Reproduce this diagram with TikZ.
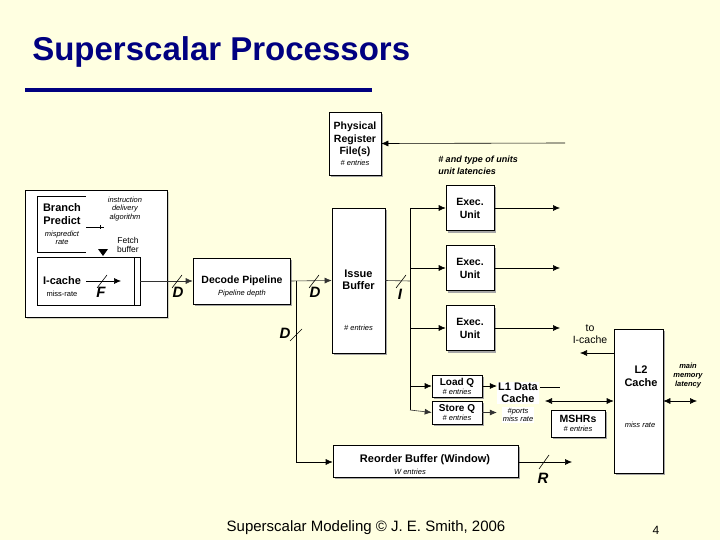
\documentclass[tikz,border=0pt]{standalone}
\usepackage{fontspec}
\setmainfont{Liberation Sans}
\usetikzlibrary{arrows.meta,shadows}
\definecolor{slidebg}{RGB}{255,255,225}
\definecolor{navy}{RGB}{0,0,128}
\begin{document}
\begin{tikzpicture}[
        x=1pt, y=-1pt, semithick,
        box/.style={draw, fill=white, align=center, inner sep=0pt, font=\bfseries\fontsize{11}{12.5}\selectfont,
            drop shadow={shadow xshift=2pt, shadow yshift=-2pt, fill=gray!70, opacity=1}},
        note/.style={font=\bfseries\itshape\fontsize{9}{12}\selectfont, align=center, inner sep=0pt},
        tiny/.style={font=\itshape\fontsize{7.5}{8.5}\selectfont, inner sep=0pt, align=center},
        arrow/.style={-{Latex[length=7pt,width=6pt]}},
        dbl/.style={{Latex[length=7pt,width=6pt]}-{Latex[length=7pt,width=6pt]}},
        wire/.style={},
        lbl/.style={font=\bfseries\itshape\fontsize{15}{16}\selectfont, inner sep=0pt}
    ]
        \fill[slidebg] (0,0) rectangle (720,540);
        \useasboundingbox (0,0) rectangle (720,540);

        % Title
        \node[anchor=west, font=\bfseries\fontsize{33}{36}\selectfont, text=navy, inner sep=0pt] (title) at (32,52) {Superscalar Processors};
        \draw[navy, line width=4pt] (25,90) -- (372,90);

        % Front end
        \node[draw, fill=white, minimum width=142, minimum height=127, drop shadow={shadow xshift=2pt, shadow yshift=-2pt, fill=gray!70}] (front) at (96,253.5) {};
        \node[draw, fill=white, minimum width=63, minimum height=56, inner sep=0pt] (bpred) at (68.5,224) {};
        \fill[white] (86,193) rectangle (160,225);
        \fill[white] (86,229) rectangle (160,256);
        \draw (86,227) -- (104,227);
        \node[align=center, font=\bfseries\fontsize{11}{12.5}\selectfont, inner sep=0pt] (bptext) at (62,214) {Branch\\Predict};
        \node[tiny] (misp) at (62,238) {mispredict\\rate};
        \node[tiny] (algo) at (125,209) {instruction\\delivery\\algorithm};
        \node[font=\fontsize{8.5}{9.5}\selectfont, align=center, inner sep=0pt] (fbuf) at (128,245) {Fetch\\buffer};
        \fill (98,249) -- (108,249) -- (103,256) -- cycle;
        \node[draw, fill=white, minimum width=103, minimum height=48, inner sep=0pt] (icbox) at (88.5,281) {};
        \fill[white] (86,259) rectangle (130,304);
        \draw (134,257) -- (134,305);
        \node[font=\bfseries\fontsize{11}{12}\selectfont, inner sep=0pt] (icache) at (62,281) {I-cache};
        \node[tiny, font=\fontsize{7.5}{8.5}\selectfont] (icmiss) at (62,294) {miss-rate};
        \coordinate (fsrc) at (86,281);
        \coordinate (fdst) at (121,281);
        \draw[arrow] (fsrc) -- (fdst);
        \draw (97,288) -- (107,275);
        \node[lbl] (fl) at (101,292) {F};

        % Decode / issue
        \node[box, minimum width=97, minimum height=46] (decode) at (241.5,281) {};
        \node[font=\bfseries\fontsize{10.5}{12}\selectfont, inner sep=0pt] (dect) at (242,281) {Decode Pipeline};
        \node[tiny] (dpd) at (242,294) {Pipeline depth};
        \coordinate (fout) at (140,281);
        \draw[arrow, gray!40!black] (fout) -- (decode.west);
        \draw (172,288) -- (182,275);
        \node[lbl] (dl1) at (178,292) {D};

        \node[box, minimum width=53, minimum height=145] (issue) at (358.5,280.5) {};
        \node[font=\bfseries\fontsize{11}{12.5}\selectfont, align=center, inner sep=0pt] (isst) at (358.5,280) {Issue\\Buffer};
        \node[tiny] (isse) at (358.5,328) {\# entries};
        \draw[arrow, gray!40!black] (decode.east) -- (issue.west);
        \draw (309,288) -- (319,275);
        \node[lbl] (dl2) at (315,292) {D};

        \node[box, minimum width=52, minimum height=63, font=\bfseries\fontsize{10.5}{12.5}\selectfont] (prf) at (355,143.5) {Physical\\Register\\File(s)\\[-2pt]{\mdseries\itshape\fontsize{7.5}{8}\selectfont \# entries}};
        \coordinate (prfsrc) at (565,143);
        \draw[arrow] (prfsrc) -- (prf.east);
        \node[note, align=left] (units) at (478,165) {\# and type of units\\unit latencies};

        % Execution units
        \coordinate (bus) at (410,281);
        \draw[wire, gray!40!black] (issue.east) -- (bus);
        \draw (396,288) -- (406,275);
        \node[lbl] (il) at (400,294) {I};
        \draw[wire] (410,208) -- (410,410);
        \foreach \y [count=\i] in {208,268,328} {
            \node[box, minimum width=48, minimum height=45, font=\bfseries\fontsize{10.5}{13}\selectfont] (ex\i) at (470,\y) {Exec.\\Unit};
            \coordinate (exin\i) at (410,\y);
            \coordinate (exout\i) at (560,\y);
            \draw[arrow] (exin\i) -- (ex\i.west);
            \draw[arrow] (ex\i.east) -- (exout\i);
        }

        % Memory
        \node[box, minimum width=50, minimum height=22, font=\bfseries\fontsize{10}{10}\selectfont] (loadq) at (457,386) {Load Q\\[-1pt]{\mdseries\itshape\fontsize{7.5}{8}\selectfont \# entries}};
        \node[box, minimum width=50, minimum height=23, font=\bfseries\fontsize{10}{10}\selectfont] (storeq) at (457,412.5) {Store Q\\[-1pt]{\mdseries\itshape\fontsize{7.5}{8}\selectfont \# entries}};
        \coordinate (lqin) at (410,386);
        \coordinate (sqin) at (410,410);
        \draw[arrow] (lqin) -- (loadq.west);
        \draw[arrow, gray!40!black] (sqin) -- (storeq.west);
        \node[font=\bfseries\fontsize{11}{12.5}\selectfont, align=center, inner sep=1pt, fill=white] (l1) at (518,393) {L1 Data\\Cache};
        \node[tiny, fill=white, inner sep=1pt] (l1n) at (518,415) {\#ports\\miss rate};
        \draw[arrow] (loadq.east) -- (l1.west |- loadq.east);
        \draw[arrow, gray!40!black] (storeq.east) -- (l1.west |- storeq.east);
        \coordinate (l1tail) at (560,387);
        \draw (540,387) -- (l1tail);
        \node[box, minimum width=54, minimum height=27, font=\bfseries\fontsize{10.5}{10}\selectfont] (mshr) at (578,423.5) {MSHRs\\[-1pt]{\mdseries\itshape\fontsize{7.5}{8}\selectfont \# entries}};
        \node[box, minimum width=49, minimum height=144] (l2) at (638.5,401) {};
        \node[font=\bfseries\fontsize{11}{12.5}\selectfont, align=center, inner sep=0pt] (l2t) at (641,376) {L2\\Cache};
        \node[tiny] (l2m) at (640,425) {miss rate};
        \coordinate (l1r) at (545,401);
        \draw[dbl] (l1r) -- (l2.west |- l1r);
        \coordinate (toic) at (580,353);
        \draw[arrow] (l2.west |- toic) -- (toic);
        \node[font=\fontsize{10.5}{12}\selectfont, align=center, inner sep=0pt] (toict) at (590,334) {to\\I-cache};
        \node[note, font=\bfseries\itshape\fontsize{7.5}{9}\selectfont] (mainm) at (688,376) {main\\memory\\latency};
        \coordinate (memr) at (697,401);
        \draw[dbl] (l2.east |- memr) -- (memr);

        % Reorder buffer
        \node[box, minimum width=185, minimum height=32] (rob) at (425.5,461) {};
        \node[font=\bfseries\fontsize{11}{12.5}\selectfont, inner sep=0pt] (robt) at (425,460) {Reorder Buffer (Window)};
        \node[tiny] (robw) at (410,472) {W entries};
        \coordinate (dtap) at (296,281);
        \coordinate (dcorner) at (296,462);
        \draw[arrow] (dtap) -- (dcorner) -- (rob.west |- dcorner);
        \draw (290,341) -- (302,329);
        \node[lbl] (dl3) at (285,333) {D};
        \coordinate (robout) at (572,462);
        \draw[arrow] (rob.east |- robout) -- (robout);
        \draw (539,469) -- (549,455);
        \node[lbl] (rl) at (543,478) {R};

        % Footer
        \node[font=\fontsize{15}{16}\selectfont, inner sep=0pt] (foot) at (366,528) {Superscalar Modeling © J. E. Smith, 2006};
        \node[font=\fontsize{12}{13}\selectfont, inner sep=0pt] (page) at (656,530) {4};
    \end{tikzpicture}
\end{document}
